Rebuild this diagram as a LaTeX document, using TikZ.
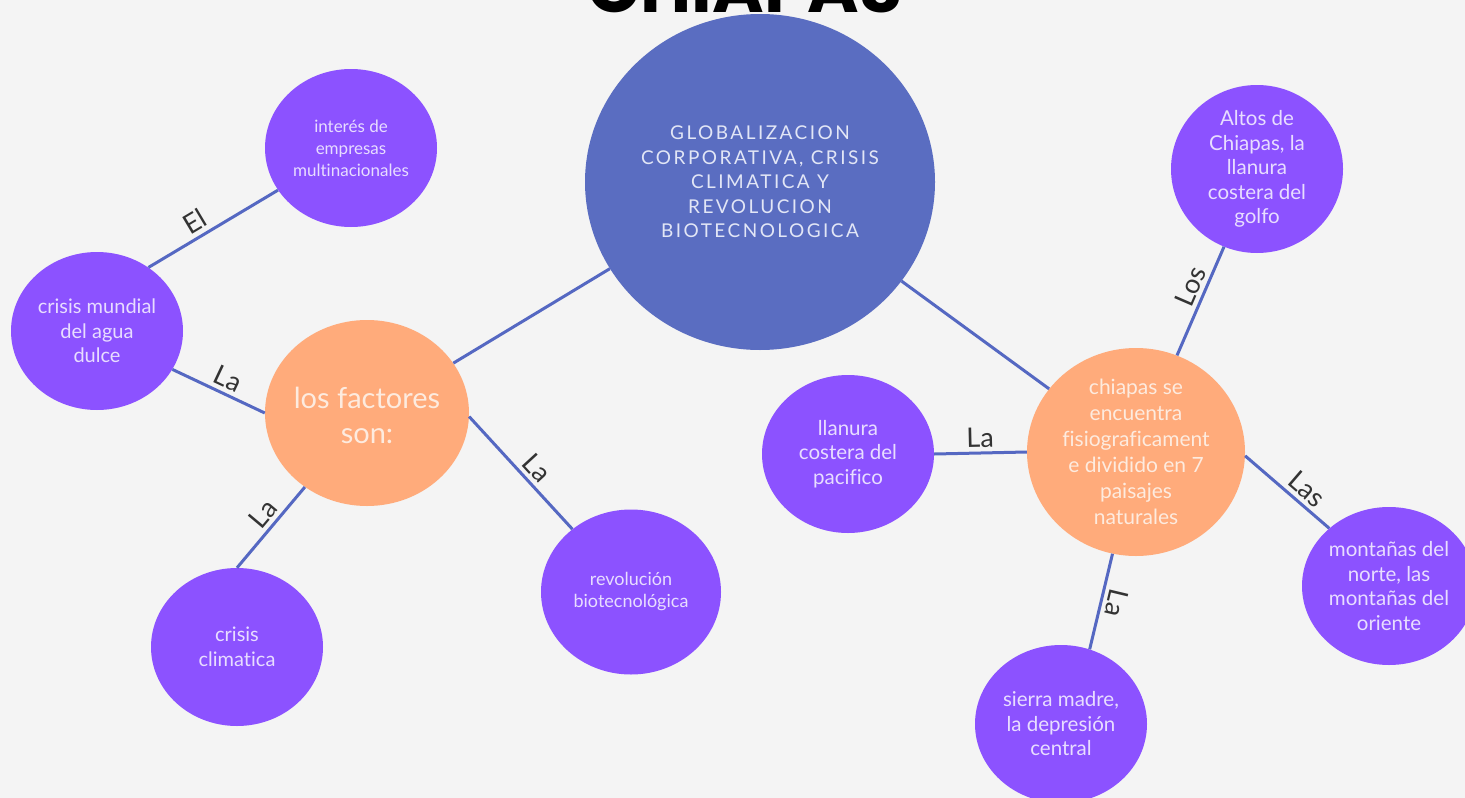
\documentclass[tikz,border=0pt]{standalone}
\usepackage{fontspec}
\setmainfont{Lato}[Ligatures=NoCommon]
\newfontfamily\titlefont{Poppins}
\newfontfamily\capsfont[LetterSpace=13]{Lato}
\usetikzlibrary{shapes.geometric}
\definecolor{bg}{HTML}{F4F4F4}
\definecolor{purp}{HTML}{8C52FF}
\definecolor{orng}{HTML}{FFAB7B}
\definecolor{blu}{HTML}{5A6DC1}
\definecolor{lin}{HTML}{5568C2}
\definecolor{ptxt}{HTML}{E8DDFF}
\definecolor{otxt}{HTML}{FDEBDF}
\definecolor{btxt}{HTML}{E2E6F6}
\definecolor{labc}{HTML}{333333}
\tikzset{
  bub/.style={ellipse, inner sep=0pt, draw=none},
  pbub/.style={bub, fill=purp},
  obub/.style={bub, fill=orng},
  bbub/.style={bub, fill=blu},
  ptext/.style={align=center, text=ptxt, inner sep=0pt},
  otext/.style={align=center, text=otxt, inner sep=0pt},
  btext/.style={align=center, text=btxt, inner sep=0pt},
  conn/.style={draw=lin, line width=3pt},
  lab/.style={sloped, above, text=labc, font=\fontsize{27}{30}\selectfont, inner sep=4pt},
}
\begin{document}
\begin{tikzpicture}[x=1pt, y=-1pt]
\useasboundingbox (0,0) rectangle (1465,798);
\fill[bg] (0,0) rectangle (1465,798);

% title (cut by the top edge)
\node[anchor=base, inner sep=0pt, font=\titlefont\bfseries\fontsize{70}{70}\selectfont] (title) at (745,12) {CHIAPAS};

% bubbles
\node[bbub, minimum width=350pt, minimum height=336pt] (big) at (760,182) {};
\node[obub, minimum width=204pt, minimum height=186pt] (fac) at (367,413) {};
\node[pbub, minimum width=172pt, minimum height=158pt] (int) at (351,148) {};
\node[pbub, minimum width=172pt, minimum height=158pt] (cm) at (97,331) {};
\node[pbub, minimum width=172pt, minimum height=158pt] (cc) at (237,647) {};
\node[pbub, minimum width=180pt, minimum height=165pt] (rev) at (631,592) {};
\node[pbub, minimum width=172pt, minimum height=158pt] (ll) at (848,454) {};
\node[obub, minimum width=218pt, minimum height=208pt] (ch) at (1136,452) {};
\node[pbub, minimum width=172pt, minimum height=168pt] (al) at (1257,169) {};
\node[pbub, minimum width=174pt, minimum height=158pt] (mo) at (1389,586) {};
\node[pbub, minimum width=172pt, minimum height=158pt] (si) at (1061,724) {};

% texts
\node[btext, font=\capsfont\fontsize{19}{24.5}\selectfont] (bigt) at (big) {GLOBALIZACION\\CORPORATIVA, CRISIS\\CLIMATICA Y\\REVOLUCION\\BIOTECNOLOGICA};
\node[otext, font=\fontsize{29}{35}\selectfont] (fact) at ([yshift=-2pt]fac.center) {los factores\\son:};
\node[ptext, font=\fontsize{17}{22}\selectfont] (intt) at (int) {interés de\\empresas\\multinacionales};
\node[ptext, font=\fontsize{20}{24.5}\selectfont] (cmt) at (cm) {crisis mundial\\del agua\\dulce};
\node[ptext, font=\fontsize{20}{24.5}\selectfont] (cct) at (cc) {crisis\\climatica};
\node[ptext, font=\fontsize{18}{22}\selectfont] (revt) at (rev) {revolución\\biotecnológica};
\node[ptext, font=\fontsize{20.5}{24.5}\selectfont] (llt) at (ll) {llanura\\costera del\\pacifico};
\node[otext, font=\fontsize{21}{26}\selectfont] (cht) at (ch) {chiapas se\\encuentra\\fisiograficament\\e dividido en 7\\paisajes\\naturales};
\node[ptext, font=\fontsize{20.5}{24.5}\selectfont] (alt) at (al) {Altos de\\Chiapas, la\\llanura\\costera del\\golfo};
\node[ptext, font=\fontsize{20.5}{24.5}\selectfont] (mot) at (mo) {montañas del\\norte, las\\montañas del\\oriente};
\node[ptext, font=\fontsize{20.5}{24.5}\selectfont] (sit) at (si) {sierra madre,\\la depresión\\central};

% connectors
\draw[conn] (big.210) -- (fac.30);
\draw[conn] (big.-35) -- (ch.144);
\draw[conn] (cm.51) -- (int.210) node[lab, pos=0.42] (l1) {El};
\draw[conn] (cm.-27) -- (fac.180) node[lab, pos=0.53] (l2) {La};
\draw[conn] (cc.90) -- (fac.230) node[lab, pos=0.55] (l3) {La};
\draw[conn] (fac.-2) -- (rev.133) node[lab, pos=0.55] (l4) {La};
\draw[conn] (ll.0) -- (ch.180) node[lab, pos=0.5] (l5) {La};
\draw[conn] (ch.67) -- (al.247) node[lab, pos=0.58] (l6) {Los};
\draw[conn] (ch.-2) -- (mo.136) node[lab, pos=0.62] (l7) {Las};
\draw[conn] (ch.257) -- (si.69) node[lab, pos=0.48, allow upside down] (l8) {La};
\end{tikzpicture}
\end{document}
